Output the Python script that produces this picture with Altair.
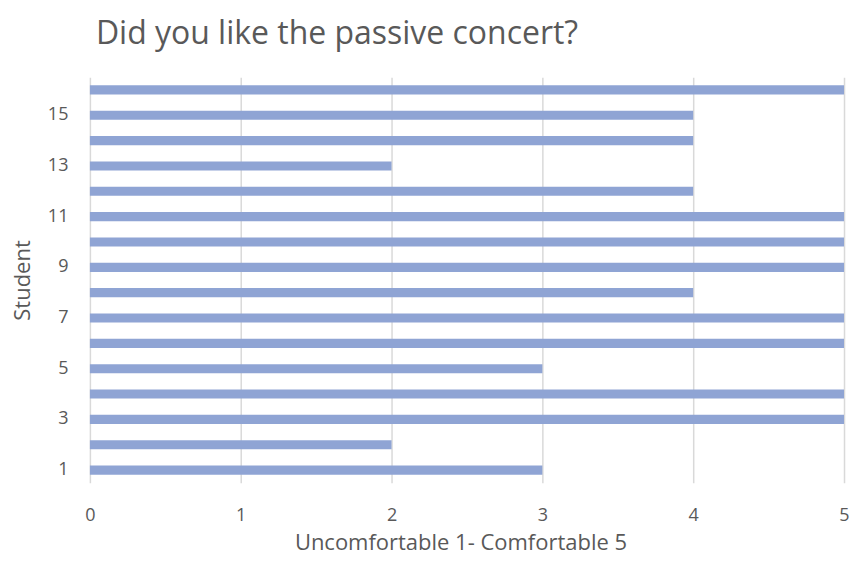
import altair as alt
import pandas as pd

students = list(range(1, 17))
scores = [3, 2, 5, 5, 3, 5, 5, 4, 5, 5, 5, 4, 2, 4, 4, 5]

df = pd.DataFrame({"Student": students, "Score": scores})

FONT = "Open Sans"
GREY = "#595959"

chart = alt.Chart(df).mark_bar(color="#8FA4D4").encode(
    x=alt.X("Score:Q",
            scale=alt.Scale(domain=[0, 5], nice=False),
            axis=alt.Axis(title="Uncomfortable 1- Comfortable 5", values=[0, 1, 2, 3, 4, 5],
                          grid=True, gridColor="#D9D9D9", gridWidth=1.5,
                          domain=False, ticks=False, labelPadding=24, labelOverlap=False,
                          labelFlush=False,
                          labelFontSize=18, labelColor=GREY, labelFont=FONT,
                          titleFontSize=22, titleColor=GREY, titleFont=FONT,
                          titleFontWeight="normal", titlePadding=8, titleX=371)),
    y=alt.Y("Student:O",
            sort="descending",
            scale=alt.Scale(paddingInner=0.64, paddingOuter=0.32),
            axis=alt.Axis(title="Student", labelExpr="datum.value % 2 == 1 ? datum.label : ''",
                          domain=False, ticks=False, labelPadding=22, labelAngle=0,
                          labelFontSize=18, labelColor=GREY, labelFont=FONT,
                          titleFontSize=22, titleColor=GREY, titleFont=FONT,
                          titleFontWeight="normal", titlePadding=13)),
).properties(
    width=755,
    height=406,
    title=alt.TitleParams("Did you like the passive concert?", anchor="start", frame="group", dx=6,
                          fontSize=32, font=FONT, color=GREY, fontWeight="normal", offset=26),
    autosize=alt.AutoSizeParams(type="none"),
    padding={"left": 82, "top": 69, "right": 6, "bottom": 75},
).configure_view(stroke=None)

chart.save("out.html", embed_options={"renderer": "svg", "actions": False})
